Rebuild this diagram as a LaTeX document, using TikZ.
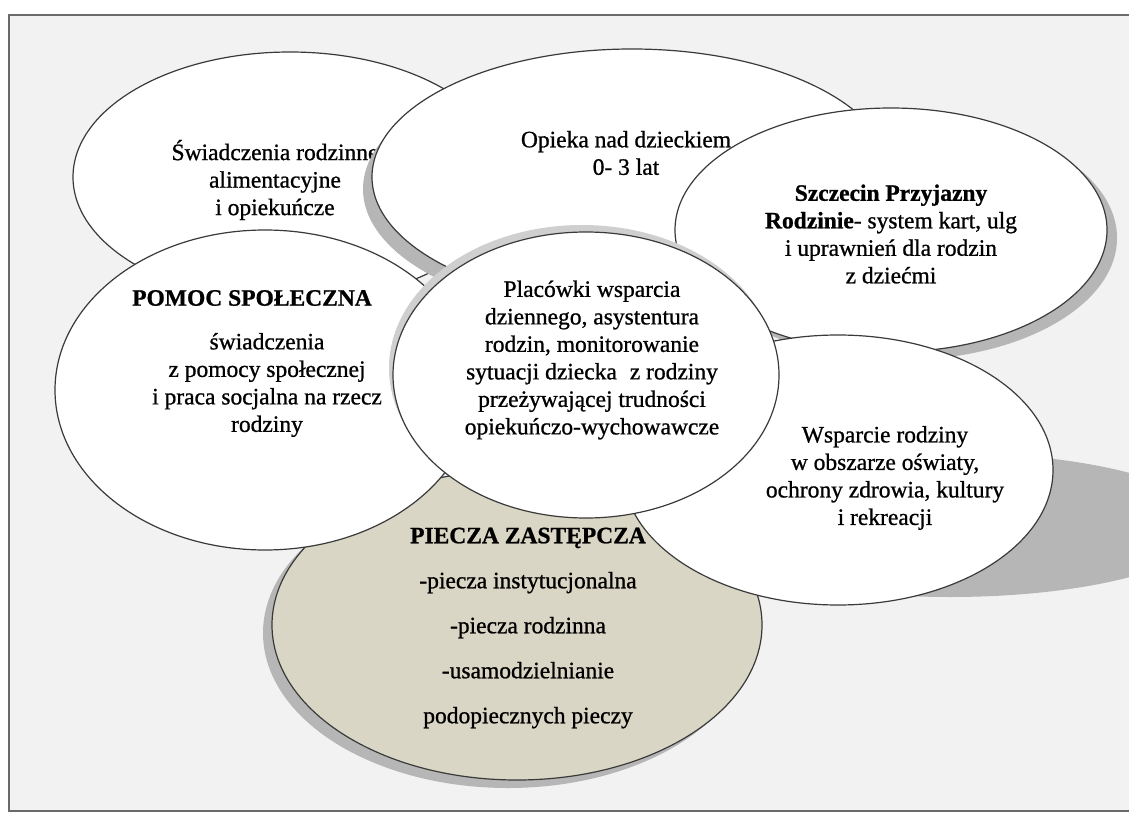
\documentclass[tikz,border=0pt]{standalone}
\usepackage{fontspec}
\setmainfont{Liberation Serif}[FakeBold=0.9]
\usetikzlibrary{shapes.geometric}
\definecolor{bgc}{HTML}{F2F2F2}
\definecolor{framec}{HTML}{6A6A6A}
\definecolor{linec}{HTML}{3A3A3A}
\definecolor{shc}{HTML}{B6B6B6}
\definecolor{shlight}{HTML}{CFCFCF}
\definecolor{beige}{HTML}{DAD6C5}
\newcommand{\dfs}{\fontsize{23.5}{27.5}\selectfont}
\newcommand{\pfs}{\fontsize{23.5}{45}\selectfont}
\begin{document}
\begin{tikzpicture}[x=1pt,y=-1pt,
 ell/.style={ellipse, draw=linec, line width=1.2pt, fill=white, inner sep=0pt},
 shd/.style={ellipse, fill=shc, draw=none, inner sep=0pt},
 txt/.style={align=center, font=\dfs, inner sep=0pt, text=black}]
\useasboundingbox (0,0) rectangle (1129,813);
\clip (0,0) rectangle (1129,813);
\fill[white] (0,0) rectangle (1129,813);
\draw[framec, line width=2.5pt, fill=bgc] (9,15) rectangle (1145,811);

% Swiadczenia
\node[ell, minimum width=434pt, minimum height=250pt] (swe) at (290,177) {};
\node[txt] (swt) at (275,180) {Świadczenia rodzinne\\ alimentacyjne\\ i opiekuńcze};

% Opieka
\node[shd, minimum width=520pt, minimum height=256pt] (ops) at (623,189) {};
\node[ell, minimum width=520pt, minimum height=256pt] (ope) at (632,177) {};
\node[txt] (opt) at (626,153) {Opieka nad dzieckiem\\ 0- 3 lat};

% Szczecin
\node[shd, minimum width=432pt, minimum height=244pt] (szs) at (901,238) {};
\node[ell, minimum width=432pt, minimum height=244pt] (sze) at (891,230) {};
\node[txt] (szt) at (891,234) {\textbf{Szczecin Przyjazny}\\ \textbf{Rodzinie}- system kart, ulg\\ i uprawnień dla rodzin\\ z dziećmi};

% Piecza
\node[shd, minimum width=490pt, minimum height=310pt] (pis) at (508,633) {};
\node[ell, fill=beige, minimum width=490pt, minimum height=310pt] (pie) at (517,625) {};
\node[txt, font=\pfs] (pit) at (528,628) {\textbf{PIECZA ZASTĘPCZA}\\ -piecza instytucjonalna\\ -piecza rodzinna\\ -usamodzielnianie\\ podopiecznych pieczy};

% Pomoc
\node[ell, minimum width=420pt, minimum height=320pt] (pome) at (265,390) {};
\node[txt] (pomh) at (252,298) {\textbf{POMOC SPOŁECZNA}};
\node[txt] (pomt) at (267,385) {świadczenia\\ z pomocy społecznej\\ i praca socjalna na rzecz\\ rodziny};

% Wsparcie
\fill[shc] (950,525) ellipse [x radius=260pt, y radius=72pt];
\node[ell, minimum width=430pt, minimum height=270pt] (wse) at (838,470) {};
\node[txt] (wst) at (885,478) {Wsparcie rodziny\\ w obszarze oświaty,\\ ochrony zdrowia, kultury\\ i rekreacji};

% Center
\node[shd, fill=shlight, minimum width=386pt, minimum height=286pt] (ces) at (582,368) {};
\node[ell, minimum width=386pt, minimum height=286pt] (ce) at (586,375) {};
\node[txt] (cet) at (592,360) {Placówki wsparcia\\ dziennego, asystentura\\ rodzin, monitorowanie\\ sytuacji dziecka\hspace{0.3em} z rodziny\\ przeżywającej trudności\\ opiekuńczo-wychowawcze};
\end{tikzpicture}
\end{document}
